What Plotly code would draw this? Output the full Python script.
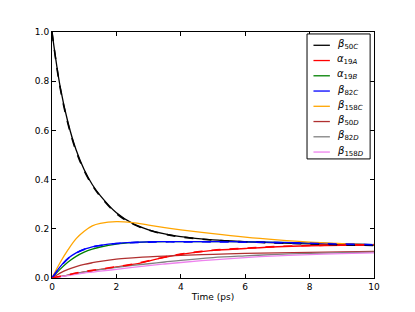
import plotly.graph_objects as go

# time grid (ps)
t = [0, 0.25, 0.5, 0.75, 1.0, 1.25, 1.5, 2.0, 2.5, 3.0, 3.5, 4.0, 5.0, 6.0, 7.0, 8.0, 9.0, 10.0]

beta50C  = [1.0, 0.78, 0.63, 0.52, 0.44, 0.38, 0.335, 0.265, 0.222, 0.196, 0.179, 0.168, 0.155, 0.148, 0.143, 0.139, 0.136, 0.133]
alpha19A = [0.0, 0.006, 0.012, 0.019, 0.025, 0.030, 0.035, 0.045, 0.055, 0.069, 0.084, 0.096, 0.112, 0.120, 0.127, 0.131, 0.133, 0.135]
alpha19B = [0.0, 0.035, 0.065, 0.088, 0.105, 0.117, 0.126, 0.138, 0.144, 0.147, 0.148, 0.148, 0.148, 0.147, 0.145, 0.142, 0.139, 0.136]
beta82C  = [0.0, 0.045, 0.080, 0.102, 0.117, 0.127, 0.133, 0.141, 0.145, 0.147, 0.148, 0.148, 0.148, 0.147, 0.145, 0.142, 0.139, 0.136]
beta158C = [0.0, 0.062, 0.115, 0.160, 0.190, 0.212, 0.222, 0.229, 0.225, 0.215, 0.205, 0.196, 0.180, 0.166, 0.155, 0.146, 0.140, 0.135]
beta50D  = [0.0, 0.020, 0.035, 0.046, 0.055, 0.062, 0.068, 0.077, 0.082, 0.086, 0.089, 0.092, 0.096, 0.100, 0.102, 0.104, 0.106, 0.108]
beta82D  = [0.0, 0.006, 0.012, 0.019, 0.025, 0.030, 0.034, 0.043, 0.051, 0.058, 0.065, 0.072, 0.083, 0.090, 0.096, 0.100, 0.103, 0.105]
beta158D = [0.0, 0.005, 0.010, 0.015, 0.020, 0.024, 0.028, 0.035, 0.043, 0.050, 0.057, 0.063, 0.074, 0.083, 0.090, 0.095, 0.099, 0.102]

# fitted curves (dashed)
fit50C  = [1.0, 0.775, 0.625, 0.515, 0.436, 0.377, 0.332, 0.262, 0.220, 0.195, 0.178, 0.167, 0.154, 0.147, 0.142, 0.138, 0.135, 0.132]
fit82C  = [0.0, 0.044, 0.079, 0.101, 0.116, 0.126, 0.132, 0.140, 0.144, 0.146, 0.147, 0.147, 0.147, 0.146, 0.144, 0.141, 0.138, 0.135]
fit19A  = [0.0, 0.007, 0.013, 0.020, 0.026, 0.031, 0.036, 0.046, 0.056, 0.070, 0.085, 0.097, 0.113, 0.121, 0.128, 0.132, 0.134, 0.136]

series = [
    ("<i>β</i><sub>50<i>C</i></sub>", beta50C, "#000000"),
    ("<i>α</i><sub>19<i>A</i></sub>", alpha19A, "#ff0000"),
    ("<i>α</i><sub>19<i>B</i></sub>", alpha19B, "#008000"),
    ("<i>β</i><sub>82<i>C</i></sub>", beta82C, "#0000ff"),
    ("<i>β</i><sub>158<i>C</i></sub>", beta158C, "#ffa500"),
    ("<i>β</i><sub>50<i>D</i></sub>", beta50D, "#b03030"),
    ("<i>β</i><sub>82<i>D</i></sub>", beta82D, "#808080"),
    ("<i>β</i><sub>158<i>D</i></sub>", beta158D, "#ee82ee"),
]

fig = go.Figure()
for name, y, c in series:
    fig.add_trace(go.Scatter(x=t, y=y, mode="lines", name=name, showlegend=False,
                             line=dict(color=c, width=1.3, shape="spline")))

for y, c in [(fit50C, "#000000"), (fit82C, "#0000ff"), (fit19A, "#ff0000")]:
    fig.add_trace(go.Scatter(x=t, y=y, mode="lines", showlegend=False,
                             line=dict(color=c, width=1.6, dash="dash", shape="spline")))

# compact legend box (matplotlib-style spacing)
box_x0, box_x1, box_y0, box_y1 = 0.792, 0.988, 0.484, 0.992
fig.add_shape(type="rect", xref="paper", yref="paper", x0=box_x0, x1=box_x1,
              y0=box_y0, y1=box_y1, line=dict(color="black", width=1),
              fillcolor="white", layer="above")
row_top, row_step = 0.946, 0.062
for i, (name, _, c) in enumerate(series):
    yy = row_top - i * row_step
    fig.add_shape(type="line", xref="paper", yref="paper", x0=0.812, x1=0.863,
                  y0=yy, y1=yy, line=dict(color=c, width=1.3), layer="above")
    fig.add_annotation(xref="paper", yref="paper", x=0.880, y=yy + 0.004, text=name,
                       showarrow=False, xanchor="left", yanchor="middle",
                       font=dict(size=10, color="black"))

axis_common = dict(showline=True, linecolor="black", linewidth=1, mirror="ticks",
                   ticks="inside", ticklen=4, tickcolor="black", showgrid=False,
                   zeroline=False, tickfont=dict(size=9, color="black"))

fig.update_layout(
    width=407, height=304,
    margin=dict(l=44, r=41, t=24, b=32),
    paper_bgcolor="white", plot_bgcolor="white",
    font=dict(family="DejaVu Sans", size=9, color="black"),
    showlegend=False,
    xaxis=dict(range=[0, 10], tickvals=[0, 2, 4, 6, 8, 10],
               title=dict(text="Time (ps)", font=dict(size=9), standoff=2), **axis_common),
    yaxis=dict(range=[0, 1.0], tickvals=[0, 0.2, 0.4, 0.6, 0.8, 1.0],
               ticktext=["0.0", "0.2", "0.4", "0.6", "0.8", "1.0"], **axis_common),
)

fig.write_html("out.html")
